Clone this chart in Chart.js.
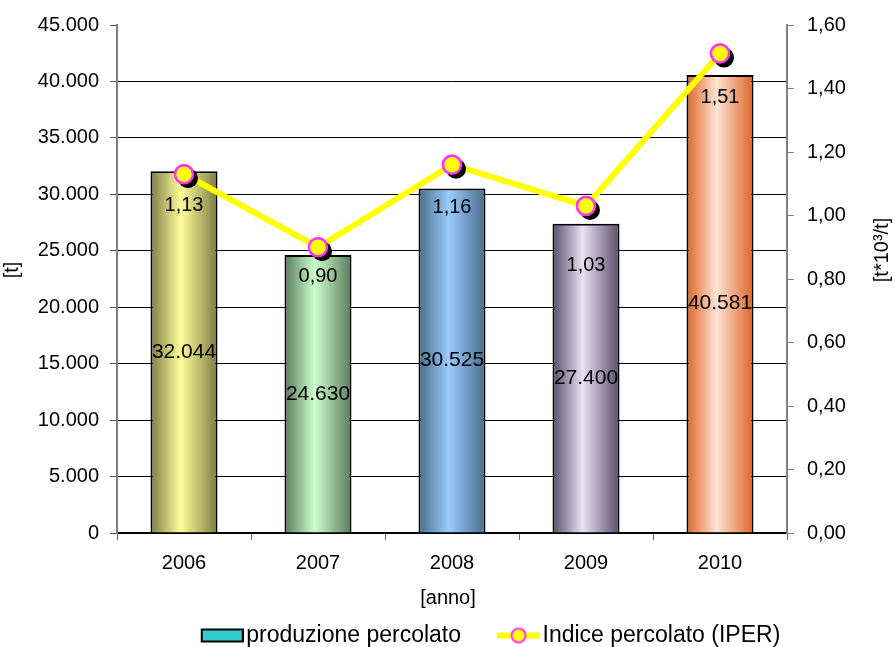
<!DOCTYPE html>
<html>
<head>
<meta charset="utf-8">
<script src="https://cdn.jsdelivr.net/npm/chart.js@4.4.1/dist/chart.umd.min.js"></script>
<style>
  html, body { margin: 0; padding: 0; background: #fff; }
  #wrap { width: 895px; height: 647px; }
</style>
</head>
<body>
<div id="wrap"><canvas id="myChart"></canvas></div>
<script>
const anni = ['2006', '2007', '2008', '2009', '2010'];
const produzione = [32044, 24630, 30525, 27400, 40581];
const indice = [1.13, 0.90, 1.16, 1.03, 1.51];

// bar colours, edge -> centre
const barDark = ['#7d7b43', '#5b7a5c', '#4b6b8c', '#5a4c6c', '#df6526'];
const barLight = ['#ffff99', '#ccffcc', '#99ccff', '#e8e2f2', '#fde4d4'];
// distance of each IPER label below its point (placed by hand in the original)
const labelGap = [31, 29, 43, 60, 44];

const FONT = '"Liberation Sans", Arial, sans-serif';
Chart.defaults.font.family = FONT;
Chart.defaults.color = '#000';

const fmtT = v => String(Math.round(v)).replace(/\B(?=(\d{3})+(?!\d))/g, '.');
const fmtI = v => Number(v).toFixed(2).replace('.', ',');

const barFill = (c) => {
  const i = c.dataIndex;
  if (i === undefined) return barLight[0];
  const chart = c.chart;
  const xs = chart.scales.x;
  if (!xs || !chart.chartArea) return barLight[i];
  const cx = xs.getPixelForValue(i);
  const half = xs.width / anni.length * 0.5 / 2;
  const g = chart.ctx.createLinearGradient(cx - half, 0, cx + half, 0);
  g.addColorStop(0, barDark[i]);
  g.addColorStop(0.45, barLight[i]);
  g.addColorStop(1, barDark[i]);
  return g;
};

// legend symbols
const mkIcon = (draw) => {
  const c = document.createElement('canvas');
  c.width = 78; c.height = 20;
  draw(c.getContext('2d'));
  return c;
};
const iconBar = mkIcon(g => {
  g.fillStyle = '#33cccc';
  g.fillRect(36, 4, 41, 12);
  g.strokeStyle = '#000';
  g.lineWidth = 2;
  g.strokeRect(36, 4, 41, 12);
});
const iconLine = mkIcon(g => {
  g.strokeStyle = '#ffff00';
  g.lineWidth = 6;
  g.beginPath(); g.moveTo(35, 10); g.lineTo(78, 10); g.stroke();
  g.beginPath(); g.arc(56.5, 10, 7, 0, Math.PI * 2);
  g.fillStyle = '#ffff00'; g.fill();
  g.strokeStyle = '#ff33ff'; g.lineWidth = 2; g.stroke();
});

const extras = {
  id: 'extras',
  afterLayout(chart) {
    const l = chart.legend;
    l.top += 10; l.bottom += 10;
    l.left += 30; l.right += 30;
  },
  afterDatasetsDraw(chart) {
    const ctx = chart.ctx;
    const lineMeta = chart.getDatasetMeta(1);
    ctx.save();
    ctx.fillStyle = '#000';
    lineMeta.data.forEach(p => {
      ctx.beginPath();
      ctx.arc(p.x + 4, p.y + 4, 10, 0, Math.PI * 2);
      ctx.fill();
    });
    ctx.restore();
    lineMeta.data.forEach(p => p.draw(ctx, chart.chartArea));

    ctx.save();
    ctx.fillStyle = '#000';
    ctx.textAlign = 'center';
    ctx.textBaseline = 'middle';
    ctx.font = '21px ' + FONT;
    chart.getDatasetMeta(0).data.forEach((b, i) => {
      ctx.fillText(fmtT(produzione[i]), b.x, (b.y + b.base) / 2);
    });
    ctx.font = '20px ' + FONT;
    lineMeta.data.forEach((p, i) => {
      ctx.fillText(fmtI(indice[i]), p.x, p.y + labelGap[i]);
    });
    ctx.restore();
  },
  afterDraw(chart) {
    const ctx = chart.ctx;
    const a = chart.chartArea;
    ctx.save();
    ctx.fillStyle = '#000';
    ctx.textAlign = 'center';
    ctx.textBaseline = 'middle';
    ctx.font = '20px ' + FONT;
    ctx.fillText('[anno]', (a.left + a.right) / 2 - 4, 598);
    ctx.save();
    ctx.translate(12, 270);
    ctx.rotate(-Math.PI / 2);
    ctx.fillText('[t]', 0, 0);
    ctx.restore();
    ctx.save();
    ctx.translate(882, 250);
    ctx.rotate(-Math.PI / 2);
    ctx.fillText('[t*10³/t]', 0, 0);
    ctx.restore();
    ctx.restore();
  }
};

new Chart(document.getElementById('myChart'), {
  type: 'bar',
  data: {
    labels: anni,
    datasets: [
      {
        type: 'bar',
        label: 'produzione percolato',
        data: produzione,
        yAxisID: 'y',
        backgroundColor: barFill,
        borderColor: '#000',
        borderWidth: 2,
        barPercentage: 0.5,
        categoryPercentage: 1,
        order: 1
      },
      {
        type: 'line',
        label: 'Indice percolato (IPER)',
        data: indice,
        yAxisID: 'y1',
        borderColor: '#ffff00',
        borderWidth: 6,
        pointRadius: 9,
        pointBorderWidth: 2.5,
        pointBackgroundColor: '#ffff00',
        pointBorderColor: '#ff33ff',
        tension: 0,
        order: 0
      }
    ]
  },
  options: {
    responsive: true,
    maintainAspectRatio: false,
    animation: false,
    layout: { padding: { top: 22, left: 0, right: 0, bottom: 0 } },
    plugins: {
      tooltip: { enabled: false },
      legend: {
        position: 'bottom',
        labels: {
          usePointStyle: true,
          pointStyleWidth: 60,
          padding: 10,
          color: '#000',
          font: { size: 23 },
          generateLabels: () => [
            { text: 'produzione percolato', pointStyle: iconBar, fillStyle: '#33cccc', strokeStyle: '#000', lineWidth: 0, hidden: false, datasetIndex: 0 },
            { text: 'Indice percolato (IPER)', pointStyle: iconLine, fillStyle: '#ffff00', strokeStyle: '#ff33ff', lineWidth: 0, hidden: false, datasetIndex: 1 }
          ]
        }
      }
    },
    scales: {
      x: {
        afterFit: s => { s.height = 71; },
        grid: { offset: true, drawOnChartArea: false, tickLength: 7, tickColor: '#666' },
        border: { color: '#000', width: 1.5 },
        ticks: { padding: 11, font: { size: 20 }, color: '#000' }
      },
      y: {
        position: 'left',
        min: 0,
        max: 45000,
        afterFit: s => { s.width = 117; },
        grid: {
          color: c => (c.tick && c.tick.value === 45000) ? 'rgba(0,0,0,0)' : '#000',
          lineWidth: 1,
          tickLength: 7,
          tickColor: '#555'
        },
        border: { color: '#808080', width: 2 },
        ticks: { stepSize: 5000, padding: 11, font: { size: 20 }, color: '#000', callback: v => fmtT(v) }
      },
      y1: {
        position: 'right',
        min: 0,
        max: 1.6,
        afterFit: s => { s.width = 108; },
        grid: { drawOnChartArea: false, tickLength: 7, tickColor: '#808080' },
        border: { color: '#808080', width: 2 },
        ticks: { stepSize: 0.2, padding: 13, font: { size: 20 }, color: '#000', callback: v => fmtI(v) }
      }
    }
  },
  plugins: [extras]
});
</script>
</body>
</html>
